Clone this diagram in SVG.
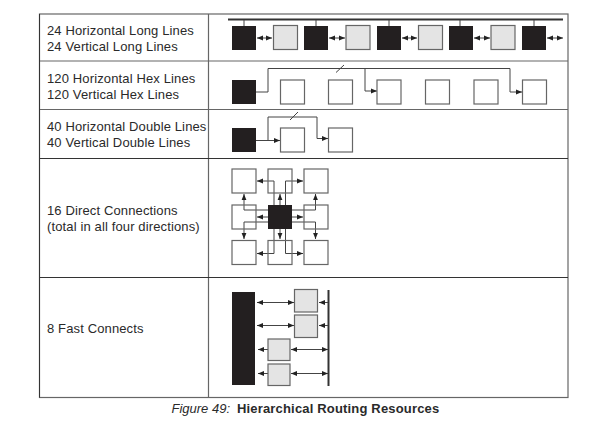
<svg xmlns="http://www.w3.org/2000/svg" width="594" height="431" viewBox="0 0 594 431">
<style>
text{font-family:"Liberation Sans",Arial,sans-serif;font-size:13px;letter-spacing:.13px;fill:#2a2a2a}
.frame{stroke:#666;stroke-width:1.2;fill:none}
.k{fill:#231f20;stroke:none}
.g{fill:#e4e4e4;stroke:#666;stroke-width:1.2}
.w{fill:#fff;stroke:#666;stroke-width:1.2}
.n{fill:none;stroke:#666;stroke-width:1.2}
.c{fill:none;stroke:#444;stroke-width:1}
.b{fill:none;stroke:#333;stroke-width:2}
</style>
<defs>
<marker id="a" viewBox="0 0 6 6" refX="6" refY="3" markerWidth="6" markerHeight="6" markerUnits="userSpaceOnUse" orient="auto-start-reverse"><path d="M0 .6L6 3L0 5.400z" fill="#222"/></marker>
</defs>
<rect width="594" height="431" fill="#fff"/>
<g id="table" class="frame">
<rect x="39.500" y="14" width="528.500" height="383.500"/>
<path d="M208.500 14V397.500M39.500 61H568M39.500 109.500H568"/>
<path style="stroke:#333;stroke-width:1" d="M39.500 158.500H568M39.500 277.500H568M39.500 14V397.500"/>
</g>
<g id="labels">
<text x="47" y="35">24 Horizontal Long Lines</text>
<text x="47" y="51">24 Vertical Long Lines</text>
<text x="47" y="83">120 Horizontal Hex Lines</text>
<text x="47" y="99">120 Vertical Hex Lines</text>
<text x="47" y="131">40 Horizontal Double Lines</text>
<text x="47" y="147">40 Vertical Double Lines</text>
<text x="47" y="215">16 Direct Connections</text>
<text x="47" y="231">(total in all four directions)</text>
<text x="47" y="333">8 Fast Connects</text>
<text x="171.500" y="413" style="font-style:italic;letter-spacing:0">Figure 49:</text>
<text x="237" y="413" style="font-weight:bold;letter-spacing:.17px">Hierarchical Routing Resources</text>
</g>
<g id="connectors">
<path class="b" d="M228 19.500H563"/>
<path class="c" d="M244 20V26M316 20V26M389 20V26M460 20V26M534 20V26"/>
<path class="c" marker-start="url(#a)" marker-end="url(#a)" d="M257 38H272"/>
<path class="c" marker-start="url(#a)" marker-end="url(#a)" d="M329 38H345"/>
<path class="c" marker-start="url(#a)" marker-end="url(#a)" d="M402 38H417"/>
<path class="c" marker-start="url(#a)" marker-end="url(#a)" d="M474 38H490"/>
<path class="c" marker-start="url(#a)" marker-end="url(#a)" d="M547 38H563"/>
<path class="c" marker-end="url(#a)" d="M256 92H268V68.500H510V92H522"/>
<path class="c" marker-end="url(#a)" d="M365 68.500V91H377"/>
<path class="c" d="M336 72.500L344 65"/>
<path class="c" marker-end="url(#a)" d="M256 140.500H280"/>
<path class="c" marker-end="url(#a)" d="M268 140.500V117H317V138.500H328"/>
<path class="c" d="M290 120L298 112"/>
<path class="c" marker-end="url(#a)" d="M274 205V181H257"/>
<path class="c" marker-end="url(#a)" d="M285.500 205V181H303"/>
<path class="c" marker-end="url(#a)" d="M268 210H244V194"/>
<path class="c" marker-end="url(#a)" d="M292 210H315.500V194"/>
<path class="c" marker-end="url(#a)" d="M268 222H244V239"/>
<path class="c" marker-end="url(#a)" d="M292 222H315.500V239"/>
<path class="c" marker-end="url(#a)" d="M274 229V253.500H257"/>
<path class="c" marker-end="url(#a)" d="M285.500 229V253.500H303"/>
<path class="c" marker-end="url(#a)" d="M280 205V194"/>
<path class="c" marker-end="url(#a)" d="M280 229V239"/>
<path class="c" marker-end="url(#a)" d="M268 217H257"/>
<path class="c" marker-end="url(#a)" d="M292 217H303"/>
<path class="b" d="M328.500 290V386"/>
<path class="c" marker-start="url(#a)" marker-end="url(#a)" d="M257 302.500H294"/>
<path class="c" marker-start="url(#a)" marker-end="url(#a)" d="M257 325.500H294"/>
<path class="c" marker-end="url(#a)" d="M328 302.500H319"/>
<path class="c" marker-end="url(#a)" d="M328 325.500H319"/>
<path class="c" marker-end="url(#a)" d="M268 349.500H258"/>
<path class="c" marker-end="url(#a)" d="M268 373.500H258"/>
<path class="c" marker-start="url(#a)" marker-end="url(#a)" d="M291 349.500H328"/>
<path class="c" marker-start="url(#a)" marker-end="url(#a)" d="M291 373.500H328"/>
</g>
<g id="row1-nodes">
<rect id="l1" class="k" x="232" y="26" width="24" height="24"/>
<rect id="l2" class="g" x="273.500" y="25.500" width="24" height="24"/>
<rect id="l3" class="k" x="304" y="26" width="24" height="24"/>
<rect id="l4" class="g" x="346" y="25.500" width="24" height="24"/>
<rect id="l5" class="k" x="377" y="26" width="24" height="24"/>
<rect id="l6" class="g" x="418.500" y="25.500" width="24" height="24"/>
<rect id="l7" class="k" x="449" y="26" width="24" height="24"/>
<rect id="l8" class="g" x="491" y="25.500" width="24" height="24"/>
<rect id="l9" class="k" x="522" y="26" width="24" height="24"/>
</g>
<g id="row2-nodes">
<rect id="h0" class="k" x="232" y="80" width="24" height="24"/>
<rect id="h1" class="w" x="280.500" y="80" width="24" height="24"/>
<rect id="h2" class="w" x="328.500" y="80" width="24" height="24"/>
<rect id="h3" class="w" x="377" y="80" width="24" height="24"/>
<rect id="h4" class="w" x="425.500" y="80" width="24" height="24"/>
<rect id="h5" class="w" x="474" y="80" width="24" height="24"/>
<rect id="h6" class="w" x="522.500" y="80" width="24" height="24"/>
</g>
<g id="row3-nodes">
<rect id="d0" class="k" x="232" y="128" width="24" height="24"/>
<rect id="d1" class="w" x="280.500" y="128" width="24" height="24"/>
<rect id="d2" class="w" x="328.500" y="128" width="24" height="24"/>
</g>
<g id="row4-nodes">
<rect id="n1" class="n" x="232" y="169" width="24" height="24"/>
<rect id="n2" class="n" x="268" y="169" width="24" height="24"/>
<rect id="n3" class="n" x="304" y="169" width="24" height="24"/>
<rect id="n4" class="n" x="232" y="205" width="24" height="24"/>
<rect id="n5" class="k" x="268" y="205" width="24" height="24"/>
<rect id="n6" class="n" x="304" y="205" width="24" height="24"/>
<rect id="n7" class="n" x="232" y="240.500" width="24" height="24"/>
<rect id="n8" class="n" x="268" y="240.500" width="24" height="24"/>
<rect id="n9" class="n" x="304" y="240.500" width="24" height="24"/>
</g>
<g id="row5-nodes">
<rect id="f0" class="k" x="232" y="292" width="23" height="93"/>
<rect id="f1" class="g" x="294.500" y="289.500" width="23" height="22.500"/>
<rect id="f2" class="g" x="294.500" y="315" width="23" height="22.500"/>
<rect id="f3" class="g" x="268" y="339" width="22" height="21.500"/>
<rect id="f4" class="g" x="268" y="364" width="22" height="21.500"/>
</g>
</svg>
